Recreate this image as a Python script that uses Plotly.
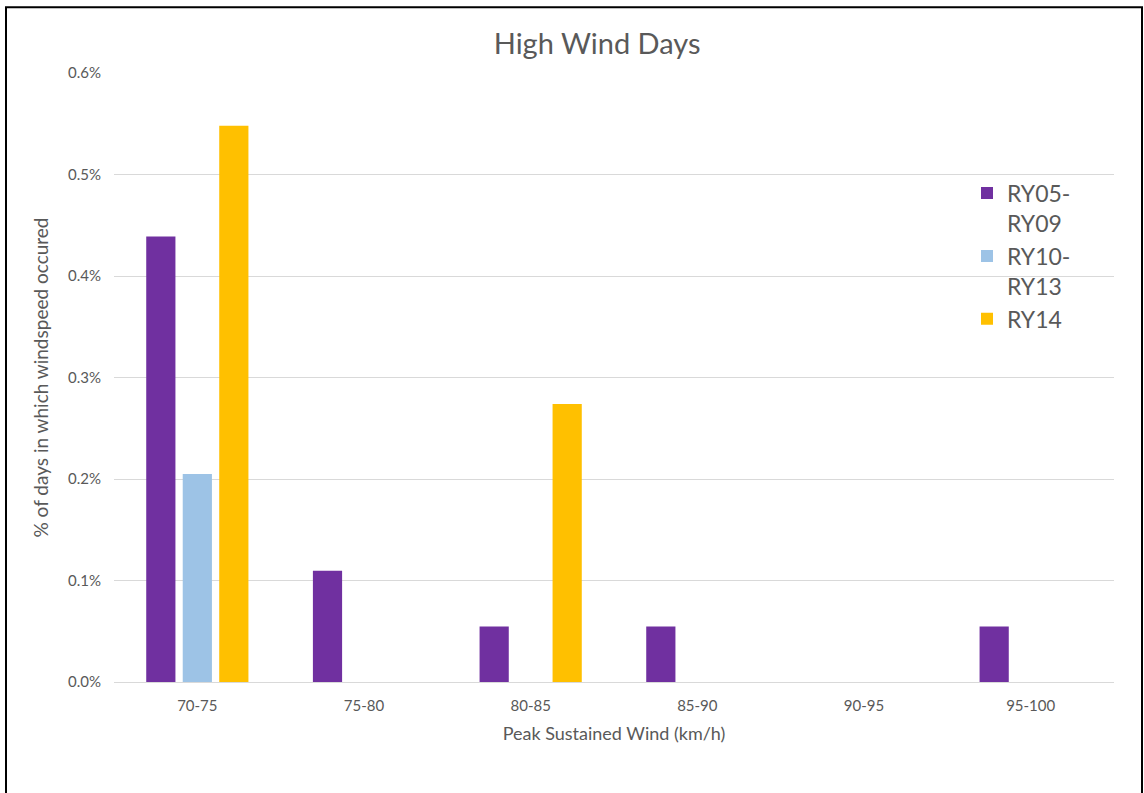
import plotly.graph_objects as go

# Share of days on which each peak sustained wind band occurred
categories = ["70-75", "75-80", "80-85", "85-90", "90-95", "95-100"]
ry05_ry09 = [0.00439, 0.001095, 0.000548, 0.000548, None, 0.000548]
ry10_ry13 = [0.00205, None, None, None, None, None]
ry14 = [0.00548, None, 0.00274, None, None, None]

series_names = ["RY05-<br>RY09", "RY10-<br>RY13", "RY14"]
series_values = [ry05_ry09, ry10_ry13, ry14]
series_colors = ["#7030a0", "#9dc3e6", "#ffc000"]

font_family = "Lato, 'Open Sans', sans-serif"
grey = "#595959"

fig = go.Figure()
for name, vals, col in zip(series_names, series_values, series_colors):
    fig.add_trace(go.Bar(x=categories, y=vals, name=name, marker_color=col,
                         marker_line_width=0))

fig.update_layout(
    width=1144, height=793,
    margin=dict(l=114, r=30, t=73, b=111),
    paper_bgcolor="white", plot_bgcolor="white",
    barmode="group", bargap=0.343, bargroupgap=0.2,
    font=dict(family=font_family, color=grey),
    title=dict(text="High Wind Days", x=0.522, xanchor="center",
               y=1 - 44 / 793, yanchor="middle", yref="container",
               font=dict(size=29, color=grey, family=font_family)),
    legend=dict(x=0.853, y=0.838, xanchor="left", yanchor="top",
                font=dict(size=23, color=grey), bgcolor="rgba(0,0,0,0)",
                itemwidth=30, tracegroupgap=0, valign="top"),
    showlegend=True,
)
fig.update_xaxes(
    type="category", showgrid=False, showline=True, linecolor="#d9d9d9",
    linewidth=1, ticks="", tickfont=dict(size=15, color=grey),
    ticklabelstandoff=10,
    title=dict(text="Peak Sustained Wind (km/h)", font=dict(size=18, color=grey),
               standoff=14),
)
fig.update_yaxes(
    range=[0, 0.006], dtick=0.001, tickformat=".1%", showgrid=True,
    gridcolor="#d9d9d9", gridwidth=1, zeroline=False, showline=False,
    ticks="", tickfont=dict(size=15, color=grey), ticklabelstandoff=12,
    title=dict(text="% of days in which windspeed occured",
               font=dict(size=19, color=grey), standoff=14),
)

# Black frame around the chart
fig.add_shape(type="rect", xref="paper", yref="paper",
              x0=-0.108, x1=1.028, y0=-0.2, y1=1.108,
              line=dict(color="black", width=2), fillcolor="rgba(0,0,0,0)",
              layer="above")

fig.write_html("out.html")
